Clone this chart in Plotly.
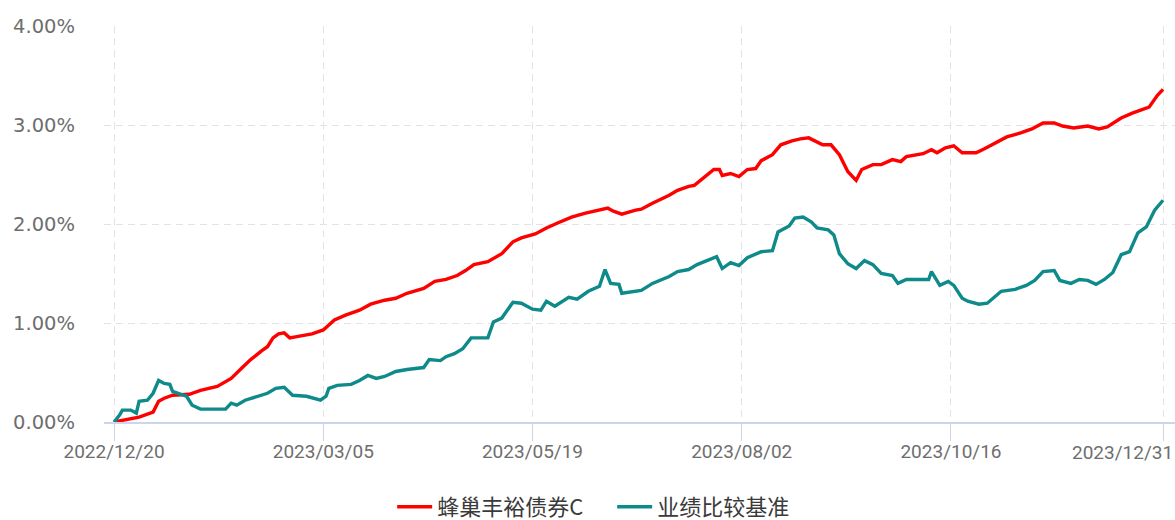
import plotly.graph_objects as go

# 蜂巢丰裕债券C cumulative return (%)
fund_dates = [
    "2022-12-20", "2022-12-29", "2023-01-03", "2023-01-05", "2023-01-07", "2023-01-10",
    "2023-01-16", "2023-01-20", "2023-01-26", "2023-01-31", "2023-02-04", "2023-02-07",
    "2023-02-11", "2023-02-13", "2023-02-15", "2023-02-17", "2023-02-19", "2023-02-21",
    "2023-02-25", "2023-03-01", "2023-03-05", "2023-03-09", "2023-03-13", "2023-03-18",
    "2023-03-22", "2023-03-27", "2023-03-31", "2023-04-04", "2023-04-10", "2023-04-14",
    "2023-04-18", "2023-04-22", "2023-04-25", "2023-04-28", "2023-05-03", "2023-05-08",
    "2023-05-12", "2023-05-15", "2023-05-20", "2023-05-24", "2023-05-28", "2023-06-02",
    "2023-06-07", "2023-06-12", "2023-06-15", "2023-06-17", "2023-06-20", "2023-06-25",
    "2023-06-27", "2023-07-01", "2023-07-07", "2023-07-10", "2023-07-14", "2023-07-16",
    "2023-07-20", "2023-07-23", "2023-07-25", "2023-07-26", "2023-07-29", "2023-08-01",
    "2023-08-04", "2023-08-07", "2023-08-09", "2023-08-13", "2023-08-16", "2023-08-20",
    "2023-08-23", "2023-08-26", "2023-08-31", "2023-09-03", "2023-09-06", "2023-09-09",
    "2023-09-12", "2023-09-14", "2023-09-18", "2023-09-21", "2023-09-25", "2023-09-28",
    "2023-09-30", "2023-10-06", "2023-10-09", "2023-10-11", "2023-10-14", "2023-10-17",
    "2023-10-20", "2023-10-25", "2023-10-28", "2023-11-02", "2023-11-05", "2023-11-10",
    "2023-11-14", "2023-11-18", "2023-11-22", "2023-11-25", "2023-11-29", "2023-12-04",
    "2023-12-08", "2023-12-11", "2023-12-16", "2023-12-20", "2023-12-26", "2023-12-29",
    "2023-12-31",
]
fund_values = [
    0.00, 0.05, 0.10, 0.21, 0.24, 0.27,
    0.28, 0.32, 0.36, 0.44, 0.55, 0.63,
    0.72, 0.76, 0.85, 0.89, 0.90, 0.85,
    0.87, 0.89, 0.93, 1.03, 1.08, 1.13,
    1.19, 1.23, 1.25, 1.30, 1.35, 1.42,
    1.44, 1.48, 1.53, 1.59, 1.62, 1.70,
    1.82, 1.86, 1.90, 1.96, 2.01, 2.07,
    2.11, 2.14, 2.16, 2.13, 2.10, 2.14,
    2.15, 2.21, 2.29, 2.34, 2.38, 2.39,
    2.48, 2.55, 2.55, 2.49, 2.51, 2.48,
    2.55, 2.56, 2.64, 2.70, 2.80, 2.84,
    2.86, 2.87, 2.80, 2.80, 2.70, 2.53,
    2.44, 2.55, 2.60, 2.60, 2.65, 2.63,
    2.68, 2.71, 2.75, 2.72, 2.77, 2.79,
    2.72, 2.72, 2.76, 2.83, 2.88, 2.92,
    2.96, 3.02, 3.02, 2.99, 2.97, 2.99,
    2.96, 2.98, 3.07, 3.12, 3.18, 3.30,
    3.36,
]

# 业绩比较基准 cumulative return (%)
bench_dates = [
    "2022-12-20", "2022-12-22", "2022-12-23", "2022-12-26", "2022-12-28", "2022-12-29",
    "2023-01-01", "2023-01-03", "2023-01-05", "2023-01-07", "2023-01-09", "2023-01-10",
    "2023-01-13", "2023-01-15", "2023-01-17", "2023-01-20", "2023-01-25", "2023-01-29",
    "2023-01-31", "2023-02-02", "2023-02-05", "2023-02-10", "2023-02-13", "2023-02-16",
    "2023-02-19", "2023-02-22", "2023-02-27", "2023-03-04", "2023-03-06", "2023-03-07",
    "2023-03-10", "2023-03-15", "2023-03-18", "2023-03-21", "2023-03-24", "2023-03-27",
    "2023-03-31", "2023-04-04", "2023-04-10", "2023-04-12", "2023-04-16", "2023-04-18",
    "2023-04-21", "2023-04-24", "2023-04-27", "2023-05-03", "2023-05-05", "2023-05-08",
    "2023-05-12", "2023-05-15", "2023-05-19", "2023-05-22", "2023-05-24", "2023-05-27",
    "2023-06-01", "2023-06-04", "2023-06-08", "2023-06-12", "2023-06-14", "2023-06-16",
    "2023-06-19", "2023-06-20", "2023-06-25", "2023-06-27", "2023-07-01", "2023-07-07",
    "2023-07-10", "2023-07-14", "2023-07-17", "2023-07-21", "2023-07-24", "2023-07-26",
    "2023-07-29", "2023-08-01", "2023-08-04", "2023-08-09", "2023-08-13", "2023-08-15",
    "2023-08-19", "2023-08-21", "2023-08-24", "2023-08-27", "2023-08-29", "2023-09-02",
    "2023-09-04", "2023-09-06", "2023-09-09", "2023-09-12", "2023-09-15", "2023-09-18",
    "2023-09-21", "2023-09-25", "2023-09-27", "2023-09-30", "2023-10-08", "2023-10-09",
    "2023-10-12", "2023-10-15", "2023-10-17", "2023-10-20", "2023-10-22", "2023-10-26",
    "2023-10-29", "2023-11-03", "2023-11-08", "2023-11-12", "2023-11-15", "2023-11-18",
    "2023-11-22", "2023-11-24", "2023-11-28", "2023-12-01", "2023-12-04", "2023-12-07",
    "2023-12-10", "2023-12-13", "2023-12-16", "2023-12-19", "2023-12-22", "2023-12-25",
    "2023-12-28", "2023-12-31",
]
bench_values = [
    0.00, 0.07, 0.12, 0.12, 0.09, 0.21,
    0.22, 0.29, 0.42, 0.39, 0.38, 0.31,
    0.28, 0.26, 0.17, 0.13, 0.13, 0.13,
    0.19, 0.17, 0.22, 0.26, 0.29, 0.34,
    0.35, 0.27, 0.26, 0.22, 0.26, 0.34,
    0.37, 0.38, 0.42, 0.47, 0.44, 0.46,
    0.51, 0.53, 0.55, 0.63, 0.62, 0.66,
    0.69, 0.74, 0.85, 0.85, 1.01, 1.05,
    1.21, 1.20, 1.14, 1.13, 1.22, 1.17,
    1.26, 1.24, 1.32, 1.37, 1.54, 1.40,
    1.39, 1.30, 1.32, 1.33, 1.40, 1.47,
    1.52, 1.54, 1.59, 1.64, 1.67, 1.55,
    1.61, 1.58, 1.66, 1.72, 1.73, 1.92,
    1.98, 2.06, 2.07, 2.02, 1.96, 1.94,
    1.89, 1.70, 1.60, 1.55, 1.63, 1.59,
    1.50, 1.48, 1.40, 1.44, 1.44, 1.52,
    1.38, 1.42, 1.38, 1.25, 1.22, 1.19,
    1.20, 1.32, 1.34, 1.38, 1.43, 1.52,
    1.53, 1.43, 1.40, 1.44, 1.43, 1.39,
    1.44, 1.51, 1.69, 1.72, 1.91, 1.97,
    2.14, 2.24,
]

x_tick_vals = ["2022-12-20", "2023-03-05", "2023-05-19", "2023-08-02", "2023-10-16", "2023-12-31"]
x_tick_text = ["2022/12/20", "2023/03/05", "2023/05/19", "2023/08/02", "2023/10/16", ""]
last_tick_label = "2023/12/31"
y_tick_vals = [0, 1, 2, 3, 4]
y_tick_text = ["0.00%", "1.00%", "2.00%", "3.00%", "4.00%"]

series_names = ["蜂巢丰裕债券C", "业绩比较基准"]
series_colors = ["#ff0000", "#0e8a8a"]

fig = go.Figure()
fig.add_trace(go.Scatter(x=fund_dates, y=fund_values, mode="lines", name=series_names[0],
                         line=dict(color=series_colors[0], width=3.4)))
fig.add_trace(go.Scatter(x=bench_dates, y=bench_values, mode="lines", name=series_names[1],
                         line=dict(color=series_colors[1], width=3.4)))

grid_color = "#e3e3e3"
axis_blue = "#ccd6eb"
label_color = "#6e6e6e"

fig.update_layout(
    width=1175, height=520,
    margin=dict(l=104, r=0, t=26, b=98),
    paper_bgcolor="white", plot_bgcolor="white",
    showlegend=True,
    legend=dict(orientation="h", xref="container", yref="container",
                x=0.521, xanchor="center", y=0.025, yanchor="middle",
                font=dict(family="Noto Sans CJK SC", size=22, color="#3a3a3a"),
                itemwidth=35, entrywidth=170, entrywidthmode="pixels",
                tracegroupgap=0),
    xaxis=dict(
        type="date",
        range=["2022-12-16 10:00", "2024-01-04 07:00"],
        tickmode="array", tickvals=x_tick_vals, ticktext=x_tick_text,
        showgrid=True, gridcolor=grid_color, griddash="7px,5px", gridwidth=1,
        showline=True, linecolor=axis_blue, linewidth=1.5,
        ticks="outside", ticklen=17, tickcolor=axis_blue, tickwidth=1.2,
        ticklabelstandoff=-6,
        tickfont=dict(family="Roboto", size=19, color=label_color),
        zeroline=False,
    ),
    yaxis=dict(
        range=[0, 4],
        tickmode="array", tickvals=y_tick_vals, ticktext=y_tick_text,
        showgrid=True, gridcolor=grid_color, griddash="7px,5px", gridwidth=1,
        showline=False, zeroline=False,
        ticks="", ticklabelstandoff=28,
        tickfont=dict(family="DejaVu Sans", size=19.5, color=label_color),
    ),
    annotations=[dict(
        text=last_tick_label, xref="paper", yref="paper", x=1.0, y=0,
        xanchor="right", yanchor="top", yshift=-17, showarrow=False,
        font=dict(family="Roboto", size=19, color=label_color),
    )],
)

fig.write_html("out.html", config={"displayModeBar": False},
               post_script="document.body.style.margin='0';")
